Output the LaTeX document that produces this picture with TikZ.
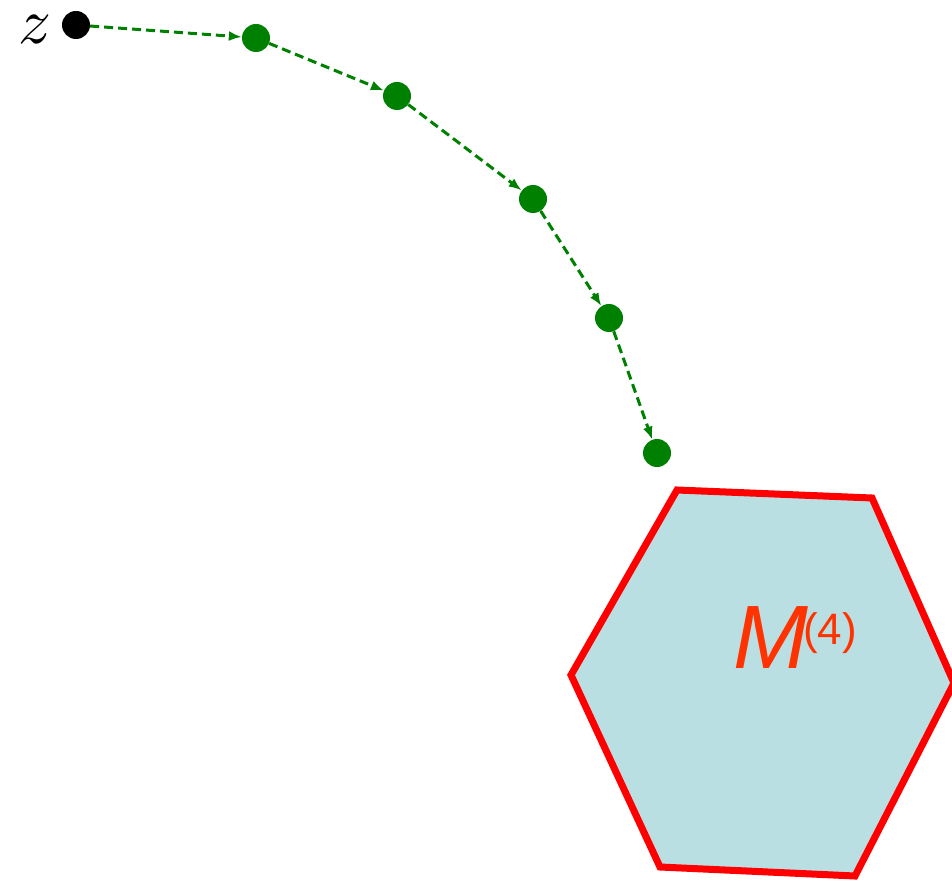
\documentclass[tikz,border=0pt]{standalone}
\usepackage{fontspec}
\setsansfont{Liberation Sans}
\usepackage{tikz}
\usetikzlibrary{positioning,arrows.meta}

\definecolor{walkgreen}{RGB}{0,128,0}
\definecolor{cellblue}{RGB}{186,223,226}
\definecolor{labelred}{RGB}{255,51,0}

\begin{document}
\begin{tikzpicture}[x=1pt,y=-1pt,
    dot/.style={circle,fill=walkgreen,minimum size=28pt,inner sep=0pt},
    walk/.style={-{Latex[length=13pt,width=10pt]},walkgreen,line width=3pt,
      dash pattern=on 9pt off 5pt,shorten >=0pt,shorten <=0pt}]
      \useasboundingbox (0,0) rectangle (952,882);
      % the cell
      \draw[red,fill=cellblue,line width=7pt,line join=miter]
        (677,490) -- (872,498) -- (954,683) -- (855,876) -- (660,867) -- (571,675) -- cycle;
      \node[text=labelred,anchor=base west,inner sep=0pt] (mlabel) at (733,668)
        {\fontsize{90}{90}\selectfont\sffamily\itshape M};
      \node[text=labelred,anchor=base west,inner sep=0pt] (mup) at (803,644)
        {\fontsize{44}{44}\selectfont\sffamily (4)};
      % the walk
      \node[dot,fill=black] (z) at (76,25) {};
      \node[left=9pt of z,yshift=-5pt,inner sep=0pt,scale=6.5] (zlabel) {$z$};
      \node[dot] (w1) at (256,38) {};
      \node[dot] (w2) at (397,96) {};
      \node[dot] (w3) at (533,199) {};
      \node[dot] (w4) at (609,318) {};
      \node[dot] (w5) at (657,453) {};

      \path[walk] (z) edge (w1)
             (w1) edge (w2)
             (w2) edge (w3)
             (w3) edge (w4)
             (w4) edge (w5);
    \end{tikzpicture}
\end{document}
